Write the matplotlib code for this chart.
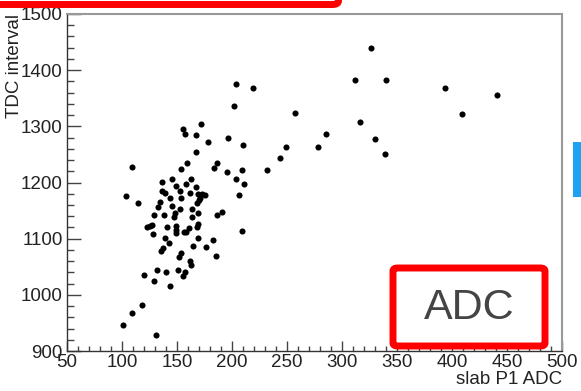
import matplotlib
matplotlib.use("Agg")
import matplotlib.pyplot as plt
from matplotlib.patches import FancyBboxPatch, Rectangle
from matplotlib.ticker import MultipleLocator

plt.rcParams['font.family'] = ['Liberation Sans', 'DejaVu Sans']

# slab P1 ADC vs TDC interval
adc = [326, 312, 340, 394, 441, 257, 316, 409, 285, 330, 278.5, 339,
       204, 219, 202, 172, 167.5, 178, 196, 210, 249, 167.5, 243.5,
       159, 186.5, 184, 195, 209, 231.5, 204, 210.5, 206.5,
       162.5, 158.5, 167.5, 161.5, 169.5, 172.5, 175.5, 171, 168, 170,
       164, 169.5, 164, 186.5, 191, 169.5, 168, 161, 158, 209.5,
       169.5, 183, 164.5, 176, 155, 157, 109.5, 153.5, 136, 145, 149,
       103.5, 114.5, 136, 139, 143.5, 152.5, 154, 134.5, 133, 145.5,
       152.5, 148, 147, 129.5, 138.5, 122.5, 125, 127.5, 128.5, 140.5,
       149, 149.5, 149, 156.5, 139.5, 143, 137, 135, 152, 154, 162,
       162.5, 132, 140, 150.5, 157.5, 155, 120, 129, 143.5, 118.5,
       109, 101, 131, 185]
tdc = [1439, 1383, 1382, 1369, 1356, 1323, 1308, 1322, 1286, 1278, 1263, 1251,
       1376, 1368, 1336, 1304, 1285, 1272, 1279, 1267, 1263, 1254, 1243,
       1234, 1234, 1226, 1219, 1223, 1222, 1206, 1197, 1178,
       1207, 1197, 1192, 1182, 1180, 1179, 1178, 1172, 1163, 1168,
       1152, 1145, 1138, 1142, 1147, 1127, 1121, 1119, 1112, 1113,
       1102, 1097, 1087, 1085, 1295, 1286, 1227, 1224, 1201, 1206, 1194,
       1176, 1163, 1185, 1181, 1173, 1184, 1173, 1166, 1157, 1158,
       1152, 1146, 1139, 1143, 1142, 1120, 1123, 1125, 1108, 1121,
       1123, 1115, 1110, 1111, 1102, 1092, 1084, 1078, 1068, 1074, 1060,
       1053, 1045, 1041, 1045, 1041, 1034, 1035, 1025, 1016, 982,
       967, 946, 928, 1069]

W, H = 581, 391
fig = plt.figure(figsize=(W / 100, H / 100), dpi=100)
ax = fig.add_axes([67 / W, 1 - 351 / H, (562 - 67) / W, (351 - 14) / H])

ax.plot(adc, tdc, 'o', color='black', ms=4.4, mew=0)

ax.set_xlim(50, 500)
ax.set_ylim(900, 1500)
ax.xaxis.set_major_locator(MultipleLocator(50))
ax.xaxis.set_minor_locator(MultipleLocator(10))
ax.yaxis.set_major_locator(MultipleLocator(100))
ax.yaxis.set_minor_locator(MultipleLocator(20))

ax.tick_params(axis='x', which='major', direction='in', length=7, width=1,
               color='#444', labelsize=13.5, pad=2, labelcolor='#222')
ax.tick_params(axis='x', which='minor', direction='in', length=3.5, width=1, color='#444')
ax.tick_params(axis='y', which='major', direction='in', length=10, width=1,
               color='#444', labelsize=13.5, pad=3, labelcolor='#222')
ax.tick_params(axis='y', which='minor', direction='in', length=5, width=1, color='#444')

for side in ['left', 'bottom']:
    ax.spines[side].set_color('#333')
    ax.spines[side].set_linewidth(1)
for side in ['top', 'right']:
    ax.spines[side].set_color('#999')
    ax.spines[side].set_linewidth(1.5)

fig.text(15 / W, 1 - 14 / H, "TDC interval", rotation=90, ha='center', va='top',
         fontsize=13.5, color='#222')
fig.text(562 / W, 1 - 380 / H, "slab P1 ADC", ha='right', va='center',
         fontsize=13.5, color='#222')

# red annotation boxes
top_box = FancyBboxPatch((-40 / W, 1 - 4.5 / H), (338.5 + 40) / W, 60 / H,
                         boxstyle="round,pad=0,rounding_size=0.01",
                         transform=fig.transFigure, fill=False,
                         edgecolor='#ff0000', linewidth=5, clip_on=False)
fig.patches.append(top_box)

adc_box = FancyBboxPatch((393 / W, 1 - 346 / H), (545 - 393) / W, (346 - 268) / H,
                         boxstyle="round,pad=0,rounding_size=0.008",
                         transform=fig.transFigure, facecolor='white',
                         edgecolor='#ff0000', linewidth=5)
fig.patches.append(adc_box)
fig.text(469 / W, 1 - 308 / H, "ADC", ha='center', va='center',
         fontsize=31, color='#444')

fig.patches.append(Rectangle((573 / W, 1 - 197 / H), 10 / W, 55 / H,
                             transform=fig.transFigure, facecolor='#1da1f2',
                             edgecolor='none'))

fig.savefig("out.png", dpi=100)
